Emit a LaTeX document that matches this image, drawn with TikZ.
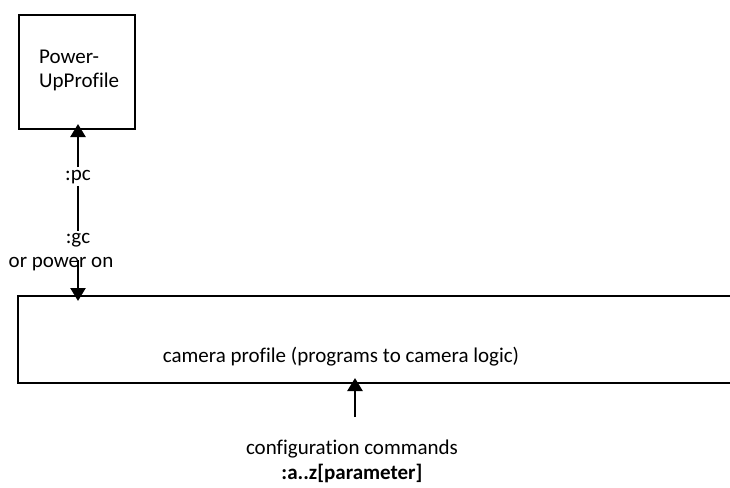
\documentclass[tikz,border=0pt]{standalone}
\usepackage{fontspec}
\setmainfont{Carlito}[Ligatures=NoCommon]
\usetikzlibrary{arrows.meta,calc}
\begin{document}
\begin{tikzpicture}[x=1pt,y=-1pt,
  lbl/.style={inner sep=0pt,font=\fontsize{21}{24}\selectfont},
  boxline/.style={line width=2.5pt},
  arr/.style={line width=2.5pt,-{Triangle[length=13pt,width=15pt]}},
  thin/.style={line width=1.2pt}]
\useasboundingbox (0,0) rectangle (730,487);
% Power-Up box
\draw[boxline] (19,15) rectangle (135,129);
\node[lbl,anchor=west,align=left] (pu) at (39,70) {Power-\\UpProfile};
\coordinate (pubot) at (78,124);
% camera profile box (open on the right)
\draw[boxline] (735,296) -- (18,296) -- (18,383) -- (735,383);
\node[lbl] (cam) at (341,357) {camera profile (programs to camera logic)};
\coordinate (camtop) at (78,301);
\coordinate (cambot) at (355,378);
% labels
\node[lbl] (pc) at (78,177) {:pc};
\node[lbl] (gc) at (78,240) {:gc};
\node[lbl] (pon) at (61,264) {or power on};
\node[lbl] (cfg) at (352,449) {configuration commands};
\node[lbl,font=\fontsize{21}{24}\selectfont\bfseries] (par) at (352,473) {:a..z[parameter]};
% connectors
\draw[arr] ($(pc.north)+(0,-3)$) -- (pubot);
\draw[thin] ($(pc.south)+(0,2)$) -- ($(gc.north)+(0,-2)$);
\coordinate (gcs) at (78,260);
\draw[arr] (gcs) -- (camtop);
\coordinate (cfs) at (355,417);
\draw[arr] (cfs) -- (cambot);
\end{tikzpicture}
\end{document}
